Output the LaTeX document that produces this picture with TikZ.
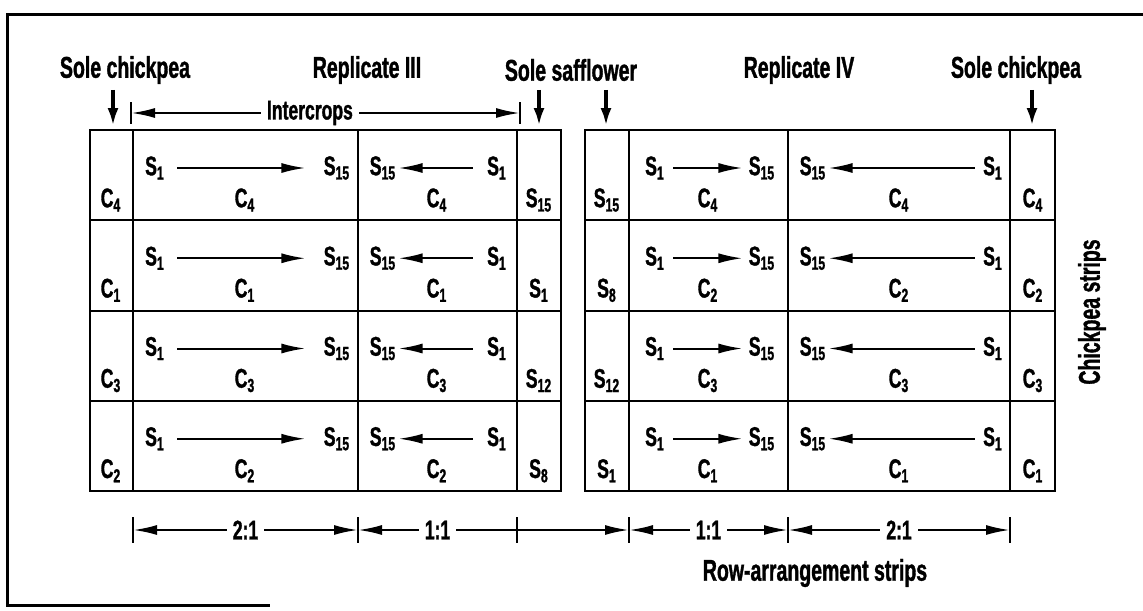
\documentclass[tikz,border=0pt]{standalone}
\usepackage{fontspec}
\setmainfont{Liberation Sans}[FakeStretch=0.65, BoldFeatures={FakeBold=1.2}]
\usetikzlibrary{arrows.meta}
\newcommand{\lS}[1]{S\textsubscript{#1}}
\newcommand{\lC}[1]{C\textsubscript{#1}}

\begin{document}
\begin{tikzpicture}[
  x=0.5pt, y=-0.5pt,
  >={Latex[length=12pt,width=5pt]},
  font=\bfseries\fontsize{13.5}{15}\selectfont,
  every node/.style={inner sep=1pt},
  hdr/.style={font=\bfseries\fontsize{15}{17}\selectfont},
  frm/.style={line width=1.5pt},
  outer/.style={line width=1.4pt},
  inner/.style={line width=1pt},
  dim/.style={line width=1.1pt},
  gap/.style={fill=white, inner sep=3pt},
  down/.style={line width=2.2pt, -{Latex[length=9pt,width=5.5pt]}},
  run/.style={line width=1pt, ->}
]
  \useasboundingbox (0,0) rectangle (1143,610);
  % frame
  \draw[frm] (1143,15) -- (7,15) -- (7,605) -- (270,605);

  % headers
  \node[hdr] (solecl) at (125,70) {Sole chickpea};
  \node[hdr] (rep3) at (367,70) {Replicate III};
  \node[hdr] (solesf) at (571,70) {Sole safflower};
  \node[hdr] (rep4) at (799,70) {Replicate IV};
  \node[hdr] (solecr) at (1016,70) {Sole chickpea};

  % arrows down to the sole strips
  \foreach \x [count=\i] in {113,539,606,1032} {
    \coordinate (u\i) at (\x,90);
    \coordinate (v\i) at (\x,126);
    \draw[down] (u\i) -- (v\i);
  }

  % intercrops span
  \coordinate (icl) at (131,113);
  \coordinate (icr) at (520,113);
  \draw[dim] (131,102) -- (131,124) (520,102) -- (520,124);
  \draw[dim,<->] (icl) -- (icr) node[pos=0.46, gap] (ic) {Intercrops};

  % plot grid
  \draw[outer] (90,130) rectangle (561,491);
  \draw[outer] (585,130) rectangle (1055,491);
  \foreach \x in {133,358,517,629,788,1010}
    \draw[inner] (\x,130) -- (\x,491);
  \foreach \y in {220,311,401} {
    \draw[inner] (90,\y) -- (561,\y);
    \draw[inner] (585,\y) -- (1055,\y);
  }

  % rows: chickpea left, sole S left block, sole S right block, chickpea right
  \foreach \r/\lc/\ls/\rs/\rc in {1/4/15/15/4, 2/1/1/8/2, 3/3/12/12/3, 4/2/8/1/1} {
    \pgfmathsetmacro\ys{130+(\r-1)*90.25+38}
    \pgfmathsetmacro\yc{130+(\r-1)*90.25+70}
    % Replicate III
    \node (cl\r) at (111,\yc) {\lC{\lc}};
    \node (la\r) at (155,\ys) {\lS{1}};
    \node (lb\r) at (337,\ys) {\lS{15}};
    \node (lx\r) at (245,\yc) {\lC{\lc}};
    \node (lc\r) at (383,\ys) {\lS{15}};
    \node (ld\r) at (497,\ys) {\lS{1}};
    \node (ly\r) at (437,\yc) {\lC{\lc}};
    \node (sl\r) at (539,\yc) {\lS{\ls}};
    \draw[run, shorten <=5pt, shorten >=8pt] (la\r) -- (lb\r);
    \draw[run, shorten <=6pt] (ld\r) -- (lc\r);
    % Replicate IV
    \node (sr\r) at (607,\yc) {\lS{\rs}};
    \node (ra\r) at (655,\ys) {\lS{1}};
    \node (rb\r) at (762,\ys) {\lS{15}};
    \node (rx\r) at (708,\yc) {\lC{\rc}};
    \node (rc\r) at (813,\ys) {\lS{15}};
    \node (rd\r) at (993,\ys) {\lS{1}};
    \node (ry\r) at (899,\yc) {\lC{\rc}};
    \node (cr\r) at (1033,\yc) {\lC{\rc}};
    \draw[run, shorten <=3pt, shorten >=2pt] (ra\r) -- (rb\r);
    \draw[run, shorten <=3pt] (rd\r) -- (rc\r);
  }

  % row-arrangement spans
  \foreach \x [count=\i] in {133,358,517,629,788,1010} {
    \coordinate (k\i) at (\x,530);
    \draw[dim] (\x,517) -- (\x,543);
  }
  \draw[dim,<->] (k1) -- (k2) node[midway, gap] (q1) {2:1};
  \draw[dim,<-] (k2) -- (k3) node[midway, gap] (q2) {1:1};
  \draw[dim,->] (k3) -- (k4);
  \draw[dim,<->] (k4) -- (k5) node[midway, gap] (q3) {1:1};
  \draw[dim,<->] (k5) -- (k6) node[midway, gap] (q4) {2:1};

  \node[hdr] (rowlab) at (815,573) {Row-arrangement strips};
  \node[hdr, rotate=90] (cplab) at (1092,312) {Chickpea strips};
\end{tikzpicture}
\end{document}
